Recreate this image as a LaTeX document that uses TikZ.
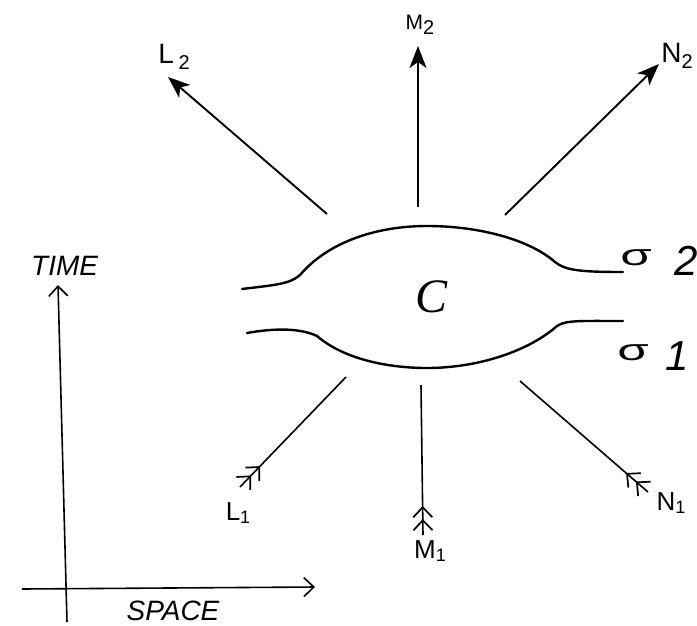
\documentclass[tikz,border=0pt]{standalone}
\usepackage{fontspec}
\setmainfont{Liberation Sans}
\newfontfamily\serifit{Liberation Serif}
\usepackage{graphicx}
\usetikzlibrary{arrows.meta,decorations.markings}
\newcommand\lowtwo[1]{\raisebox{-0.22em}{\fontsize{20}{20}\selectfont #1}}
\newcommand\lowone[1]{\raisebox{-0.10em}{\fontsize{18}{18}\selectfont #1}}
\begin{document}
\begin{tikzpicture}[x=1pt,y=-1pt,
  world/.style={line width=2.4pt, line cap=round},
  outarrow/.style={line width=1.9pt, -{Stealth[length=22pt,width=17pt,inset=6pt]}},
  inarrow/.style={line width=1.6pt, postaction={decorate},
    decoration={markings,
      mark=at position 16pt with {\arrow{Straight Barb[length=10pt,width=19pt,line width=1.7pt]}},
      mark=at position 29pt with {\arrow{Straight Barb[length=10pt,width=19pt,line width=1.7pt]}}}},
  axis/.style={line width=1.6pt, -{Straight Barb[length=10pt,width=19pt,line width=1.6pt]}},
  lbl/.style={font=\fontsize{28}{30}\selectfont, inner sep=0pt},
  lblb/.style={font=\fontsize{26}{28}\selectfont, inner sep=0pt},
  axlbl/.style={font=\fontsize{28}{30}\selectfont\itshape, inner sep=0pt},
  sig/.style={font=\fontsize{30}{32}\selectfont, inner sep=0pt},
  digit/.style={font=\fontsize{42}{44}\selectfont\itshape, inner sep=0pt}]
\useasboundingbox (0,0) rectangle (697,625);

% world-sheets
\draw[world] (242,289) .. controls (275,285) and (290,284) .. (300,275)
  .. controls (330,240) and (380,226) .. (427,226)
  .. controls (480,226) and (530,240) .. (555,262)
  .. controls (565,270) and (578,272) .. (623,272);
\draw[world] (247,333) .. controls (275,328) and (300,328) .. (317,336)
  .. controls (345,360) and (390,368) .. (427,368)
  .. controls (480,368) and (530,350) .. (557,326)
  .. controls (566,320) and (580,321) .. (623,321);

\node (C) at (432,297) {\fontsize{48}{50}\selectfont\serifit\itshape C};
\node[sig] (s2) at (636,258) {\scalebox{1.7}[1]{σ}};
\node[digit] (d2) at (686,261) {2};
\node[sig] (s1) at (633,353) {\scalebox{1.7}[1]{σ}};
\node[digit] (d1) at (677,356) {1};

% outgoing
\coordinate (L2t) at (327,214);
\coordinate (L2h) at (168,77);
\coordinate (M2t) at (418,207);
\coordinate (M2h) at (418,46);
\coordinate (N2t) at (505,215);
\coordinate (N2h) at (659,64);
\draw[outarrow] (L2t) -- (L2h);
\draw[outarrow] (M2t) -- (M2h);
\draw[outarrow] (N2t) -- (N2h);
\node[lbl] (L2) at (174,57) {L\,\lowtwo{2}};
\node[lbl,font=\fontsize{21}{23}\selectfont] (M2) at (420,25) {M\lowtwo{2}};
\node[lbl] (N2) at (677,56) {N\lowtwo{2}};

% incoming
\coordinate (L1s) at (240,487);
\coordinate (L1e) at (346,377);
\coordinate (M1s) at (423,535);
\coordinate (M1e) at (421,385);
\coordinate (N1s) at (648,492);
\coordinate (N1e) at (520,381);
\draw[inarrow] (L1s) -- (L1e);
\draw[inarrow] (M1s) -- (M1e);
\draw[inarrow] (N1s) -- (N1e);
\node[lblb] (L1) at (238,513) {L\lowone{1}};
\node[lblb] (M1) at (430,551) {M\lowone{1}};
\node[lblb] (N1) at (671,503) {N\lowone{1}};

% axes
\coordinate (tb) at (67,622);
\coordinate (tt) at (58,285);
\coordinate (sl) at (22,589);
\coordinate (sr) at (315,587);
\draw[axis] (tb) -- (tt);
\draw[axis] (sl) -- (sr);
\node[axlbl,anchor=west] (timelbl) at (31,266) {TIME};
\node[axlbl] (spacelbl) at (173,611) {SPACE};
\end{tikzpicture}
\end{document}
